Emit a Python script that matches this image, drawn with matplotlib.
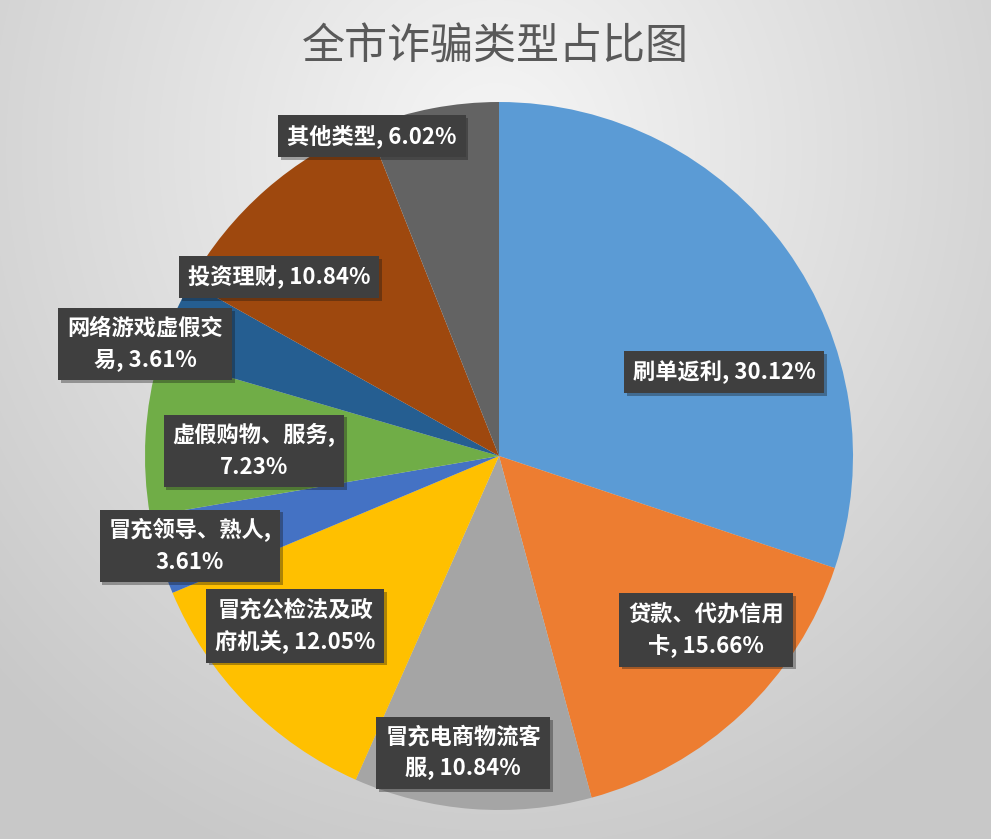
import matplotlib
matplotlib.use('Agg')
import matplotlib.pyplot as plt
import matplotlib.patheffects as pe
import numpy as np

plt.rcParams['font.family'] = ['Noto Sans CJK SC', 'DejaVu Sans']

# 数据
labels = ['刷单返利', '贷款、代办信用卡', '冒充电商物流客服', '冒充公检法及政府机关',
          '冒充领导、熟人', '虚假购物、服务', '网络游戏虚假交易', '投资理财', '其他类型']
values = [30.12, 15.66, 10.84, 12.05, 3.61, 7.23, 3.61, 10.84, 6.02]
label_texts = ['刷单返利, 30.12%', '贷款、代办信用\n卡, 15.66%', '冒充电商物流客\n服, 10.84%',
               '冒充公检法及政\n府机关, 12.05%', '冒充领导、熟人,\n3.61%', '虚假购物、服务,\n7.23%',
               '网络游戏虚假交\n易, 3.61%', '投资理财, 10.84%', '其他类型, 6.02%']
colors = ['#5B9BD5', '#ED7D31', '#A5A5A5', '#FFC000', '#4472C4',
          '#70AD47', '#255E91', '#9E480E', '#636363']
# 标签框中心 (像素, 从上往下)
label_pos = [(724, 372), (706, 630), (463, 753), (295, 626), (190, 546),
             (254, 451), (145, 344), (279, 277), (372, 136)]

W, H = 991, 839
fig = plt.figure(figsize=(W / 100, H / 100), dpi=100)

# 背景渐变
bg = fig.add_axes([0, 0, 1, 1])
yy, xx = np.mgrid[0:H, 0:W]
d = np.sqrt(((xx - 495) / 700.0) ** 2 + ((yy - 150) / 760.0) ** 2)
d = np.clip(d, 0, 1)
g = 0.965 - 0.18 * d
bg.imshow(np.dstack([g, g, g]), extent=(0, W, 0, H), aspect='auto', origin='upper')
bg.set_xlim(0, W)
bg.set_ylim(0, H)
bg.axis('off')

ax = fig.add_axes([0, 0, 1, 1])
ax.patch.set_alpha(0)
cx, cy, r = 499, H - 456, 354
ax.pie(values, colors=colors, startangle=90, counterclock=False,
       center=(cx, cy), radius=r, wedgeprops=dict(linewidth=0))
ax.set_xlim(0, W)
ax.set_ylim(0, H)
ax.set_aspect('auto')
ax.axis('off')

for txt, (px, py) in zip(label_texts, label_pos):
    t = ax.text(px, H - py, txt, ha='center', va='center', color='white',
                fontsize=16, fontweight='bold', linespacing=1.45,
                bbox=dict(boxstyle='square,pad=0.4', fc='#3f3f3f', ec='none'))
    t.get_bbox_patch().set_path_effects([pe.withSimplePatchShadow(offset=(2, -2), alpha=0.35)])

ax.text(495, H - 47, '全市诈骗类型占比图', ha='center', va='center',
        fontsize=31, color='#595959')

fig.savefig('out.png', dpi=100)
